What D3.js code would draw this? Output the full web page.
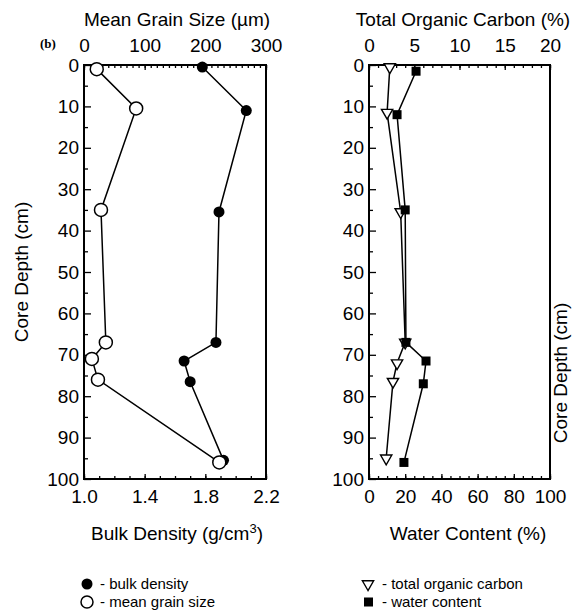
<!DOCTYPE html>
<html>
<head>
<meta charset="utf-8">
<script src="https://cdnjs.cloudflare.com/ajax/libs/d3/7.8.5/d3.min.js"></script>
<style>
    body { margin: 0; background: #fff; }
    svg text { font-family: "Liberation Sans", Arial, Helvetica, sans-serif; fill: #000; }
</style>
</head>
<body>
<div id="chart"></div>
<script>
// values
var depthBD = [0.5, 11, 35.5, 67, 71.5, 76.5, 95.5]
var bulkDensity = [1.78, 2.07, 1.89, 1.87, 1.66, 1.70, 1.92]
var depthGS = [1, 10.5, 35, 67, 71, 76, 96]
var grainSize = [21, 86, 28, 36, 13, 23, 223]

var depthTOC = [0.5, 11.5, 35.5, 67, 72, 76.5, 95]
var toc = [2.3, 2.0, 3.5, 4.0, 3.1, 2.65, 1.9]
var depthWC = [1.5, 12, 35, 67, 71.5, 77, 96]
var waterContent = [26, 15.5, 20, 20.4, 31.5, 30, 19.3]

var depthTicks = [0, 10, 20, 30, 40, 50, 60, 70, 80, 90, 100]
var grainTicks = [0, 100, 200, 300]
var bulkTicks = [1.0, 1.4, 1.8, 2.2]
var tocTicks = [0, 5, 10, 15, 20]
var waterTicks = [0, 20, 40, 60, 80, 100]

var width = 577
var height = 613
var top0 = 65, bottom0 = 479
var leftBox = [84, 266]
var rightBox = [369, 550]
var tickFont = 19
var titleFont = 19

var svg = d3.select('#chart').append('svg')
    .attr('width', width)
    .attr('height', height)

var y = d3.scaleLinear().domain([0, 100]).range([top0, bottom0])
var xGrain = d3.scaleLinear().domain([0, 300]).range(leftBox)
var xBulk = d3.scaleLinear().domain([1.0, 2.2]).range(leftBox)
var xToc = d3.scaleLinear().domain([0, 20]).range(rightBox)
var xWater = d3.scaleLinear().domain([0, 100]).range(rightBox)

function zip(a, b) {
    return a.map((d, i) => ({ depth: d, v: b[i] }))
}

function styleAxis(g) {
    g.select('.domain').remove()
    g.selectAll('line').attr('stroke', '#000').attr('stroke-width', 1.3)
    g.selectAll('text').attr('font-size', tickFont + 'px')
}

function drawPanel(box, xTop, topTicks, topMinor, xBot, botTicks, botMinor, botFmt) {
    // depth axis, ticks pointing in
    svg.append('g')
        .attr('transform', 'translate(' + box[0] + ',0)')
        .call(d3.axisLeft(y).tickValues(depthTicks).tickSizeInner(-7).tickSizeOuter(0).tickPadding(5))
        .call(styleAxis)
    svg.append('g')
        .attr('transform', 'translate(' + box[0] + ',0)')
        .call(d3.axisLeft(y).tickValues(d3.range(5, 100, 10)).tickSizeInner(-4).tickSizeOuter(0).tickFormat(''))
        .call(styleAxis)

    svg.append('g')
        .attr('transform', 'translate(0,' + top0 + ')')
        .call(d3.axisTop(xTop).tickValues(topTicks).tickSizeInner(-5).tickSizeOuter(0).tickPadding(13))
        .call(styleAxis)
    svg.append('g')
        .attr('transform', 'translate(0,' + top0 + ')')
        .call(d3.axisTop(xTop).tickValues(topMinor).tickSizeInner(-3).tickSizeOuter(0).tickFormat(''))
        .call(styleAxis)

    svg.append('g')
        .attr('transform', 'translate(0,' + bottom0 + ')')
        .call(d3.axisBottom(xBot).tickValues(botTicks).tickSizeInner(-5).tickSizeOuter(0).tickPadding(11).tickFormat(botFmt))
        .call(styleAxis)
    svg.append('g')
        .attr('transform', 'translate(0,' + bottom0 + ')')
        .call(d3.axisBottom(xBot).tickValues(botMinor).tickSizeInner(-3).tickSizeOuter(0).tickFormat(''))
        .call(styleAxis)

    svg.append('rect')
        .attr('x', box[0])
        .attr('y', top0)
        .attr('width', box[1] - box[0])
        .attr('height', bottom0 - top0)
        .attr('fill', 'none')
        .attr('stroke', '#000')
        .attr('stroke-width', 2)
}

drawPanel(leftBox, xGrain, grainTicks, d3.range(0, 301, 10), xBulk, bulkTicks,
    d3.range(10, 23).map(d => d / 10), d3.format('.1f'))
drawPanel(rightBox, xToc, tocTicks, d3.range(0, 21, 1), xWater, waterTicks,
    d3.range(0, 101, 5), d3.format('d'))

// series lines
function drawLine(data, x) {
    svg.append('path')
        .datum(data)
        .attr('fill', 'none')
        .attr('stroke', '#000')
        .attr('stroke-width', 1.5)
        .attr('d', d3.line().x(d => x(d.v)).y(d => y(d.depth)))
}

var bdData = zip(depthBD, bulkDensity)
var gsData = zip(depthGS, grainSize)
var tocData = zip(depthTOC, toc)
var wcData = zip(depthWC, waterContent)

drawLine(bdData, xBulk)
drawLine(gsData, xGrain)
drawLine(tocData, xToc)
drawLine(wcData, xWater)

svg.append('g').selectAll('circle')
    .data(bdData)
    .join('circle')
    .attr('cx', d => xBulk(d.v))
    .attr('cy', d => y(d.depth))
    .attr('r', 5.5)
    .attr('fill', '#000')

svg.append('g').selectAll('circle')
    .data(gsData)
    .join('circle')
    .attr('cx', d => xGrain(d.v))
    .attr('cy', d => y(d.depth))
    .attr('r', 6.5)
    .attr('fill', '#fff')
    .attr('stroke', '#000')
    .attr('stroke-width', 1.5)

var tri = d3.symbol().type(d3.symbolTriangle).size(55)

svg.append('g').selectAll('path')
    .data(tocData)
    .join('path')
    .attr('d', tri)
    .attr('transform', d => 'translate(' + xToc(d.v) + ',' + y(d.depth) + ') rotate(180)')
    .attr('fill', '#fff')
    .attr('stroke', '#000')
    .attr('stroke-width', 1.4)

svg.append('g').selectAll('rect')
    .data(wcData)
    .join('rect')
    .attr('x', d => xWater(d.v) - 4.5)
    .attr('y', d => y(d.depth) - 4.5)
    .attr('width', 9)
    .attr('height', 9)
    .attr('fill', '#000')

// titles
var titles = [
    { t: 'Mean Grain Size (\u00b5m)', x: 177, y: 26 },
    { t: 'Total Organic Carbon (%)', x: 463, y: 26 },
    { t: 'Water Content (%)', x: 468, y: 540 }
]
titles.forEach(d => {
    svg.append('text')
        .attr('x', d.x)
        .attr('y', d.y)
        .attr('text-anchor', 'middle')
        .attr('font-size', titleFont + 'px')
        .text(d.t)
})

svg.append('text')
    .attr('x', 177)
    .attr('y', 540)
    .attr('text-anchor', 'middle')
    .attr('font-size', titleFont + 'px')
    .call(t => t.append('tspan').text('Bulk Density (g/cm'))
    .call(t => t.append('tspan').attr('dy', -7).attr('font-size', '13px').text('3'))
    .call(t => t.append('tspan').attr('dy', 7).text(')'))

svg.append('text')
    .attr('transform', 'translate(28,272) rotate(-90)')
    .attr('text-anchor', 'middle')
    .attr('font-size', titleFont + 'px')
    .text('Core Depth (cm)')

svg.append('text')
    .attr('transform', 'translate(567,373) rotate(-90)')
    .attr('text-anchor', 'middle')
    .attr('font-size', titleFont + 'px')
    .text('Core Depth (cm)')

svg.append('text')
    .attr('x', 40)
    .attr('y', 48)
    .attr('font-size', '13px')
    .attr('font-weight', 'bold')
    .style('font-family', '"Liberation Serif", "Times New Roman", serif')
    .text('(b)')

// legend
var legendLeft = [
    { name: '- bulk density', y: 584 },
    { name: '- mean grain size', y: 602 }
]
var legendRight = [
    { name: '- total organic carbon', y: 584 },
    { name: '- water content', y: 602 }
]

svg.append('circle').attr('cx', 87).attr('cy', legendLeft[0].y).attr('r', 5.5).attr('fill', '#000')
svg.append('circle').attr('cx', 87).attr('cy', legendLeft[1].y).attr('r', 6)
    .attr('fill', '#fff').attr('stroke', '#000').attr('stroke-width', 1.5)
svg.append('path').attr('d', tri)
    .attr('transform', 'translate(368,' + legendRight[0].y + ') rotate(180)')
    .attr('fill', '#fff').attr('stroke', '#000').attr('stroke-width', 1.4)
svg.append('rect').attr('x', 364).attr('y', legendRight[1].y - 4.5)
    .attr('width', 9).attr('height', 9).attr('fill', '#000')

legendLeft.forEach(d => {
    svg.append('text').attr('x', 100).attr('y', d.y + 5).attr('font-size', '15px').text(d.name)
})
legendRight.forEach(d => {
    svg.append('text').attr('x', 382).attr('y', d.y + 5).attr('font-size', '15px').text(d.name)
})
</script>
</body>
</html>
